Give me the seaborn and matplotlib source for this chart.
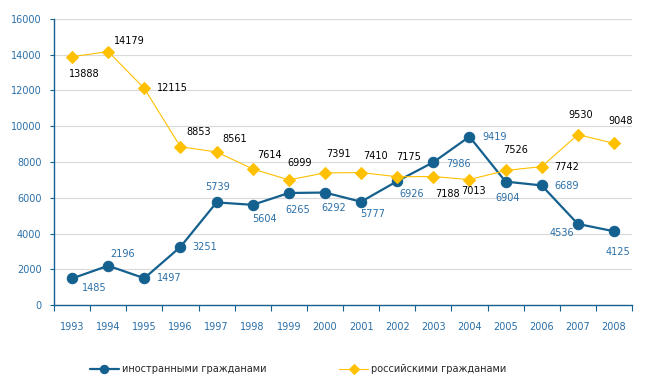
import matplotlib
matplotlib.use("Agg")
import matplotlib.pyplot as plt
import numpy as np
import pandas as pd
import seaborn as sns

years = list(range(1993, 2009))
foreign = [1485, 2196, 1497, 3251, 5739, 5604, 6265, 6292, 5777, 6926, 7986, 9419, 6904, 6689, 4536, 4125]
russian = [13888, 14179, 12115, 8853, 8561, 7614, 6999, 7391, 7410, 7175, 7188, 7013, 7526, 7742, 9530, 9048]

# label offsets in pixels (dx, dy)
foreign_off = [(22, -10), (14, 12), (25, 0), (24, 0), (1, 15), (12, -14), (9, -17), (9, -15),
               (12, -12), (14, -13), (25, -2), (25, 0), (2, -16), (25, -1), (-16, -9), (4, -21)]
russian_off = [(12, -17), (21, 11), (28, 0), (18, 15), (18, 13), (17, 14), (11, 17), (14, 19),
               (14, 17), (11, 20), (14, -17), (4, -11), (10, 20), (25, 0), (3, 20), (7, 22)]

blue = "#14608f"
yellow = "#ffc000"
tick_blue = "#2a6fa8"

sns.set_theme(style="white")
plt.rcParams['font.family'] = ['DejaVu Sans']

df = pd.DataFrame({'year': years, 'foreign': foreign, 'russian': russian})

fig = plt.figure(figsize=(6.52, 3.87), dpi=100)
ax = fig.add_axes([54/652, 1-305/387, (632-54)/652, (305-19)/387])

sns.lineplot(data=df, x='year', y='foreign', ax=ax, color=blue, linewidth=1.6,
             marker='o', markersize=7.5, markeredgecolor=blue, label='иностранными гражданами')
sns.lineplot(data=df, x='year', y='russian', ax=ax, color=yellow, linewidth=0.8,
             marker='D', markersize=6, markeredgecolor=yellow, label='российскими гражданами')

for x, y, (dx, dy) in zip(years, foreign, foreign_off):
    ax.annotate(str(y), (x, y), xytext=(dx, dy), textcoords='offset pixels',
                ha='center', va='center', fontsize=7, color=tick_blue)
for x, y, (dx, dy) in zip(years, russian, russian_off):
    ax.annotate(str(y), (x, y), xytext=(dx, dy), textcoords='offset pixels',
                ha='center', va='center', fontsize=7, color='black')

ax.set_xlim(1992.5, 2008.5)
ax.set_ylim(0, 16000)
ax.set_yticks(np.arange(0, 16001, 2000))
ax.set_xticks(years)
ax.set_xticks(np.arange(1992.5, 2009, 1), minor=True)
ax.set_xlabel('')
ax.set_ylabel('')

ax.grid(axis='y', color='#d9d9d9', linewidth=0.8)
ax.set_axisbelow(True)
for s in ['top', 'right']:
    ax.spines[s].set_visible(False)
for s in ['left', 'bottom']:
    ax.spines[s].set_color(blue)
    ax.spines[s].set_linewidth(1.0)

ax.tick_params(axis='y', which='major', left=True, length=3, width=0.8, color=blue,
               labelsize=7, labelcolor=tick_blue, pad=6)
ax.tick_params(axis='x', which='major', bottom=False, labelsize=7, labelcolor=tick_blue, pad=6)
ax.tick_params(axis='x', which='minor', bottom=True, length=4, width=0.8, color=blue)

ax.legend(loc='center', bbox_to_anchor=(298/652, 1-369/387), bbox_transform=fig.transFigure,
          ncol=2, frameon=False, fontsize=7, handlelength=3, handletextpad=0.3,
          columnspacing=7.5, markerscale=0.8)

fig.savefig('out.png', dpi=100)
